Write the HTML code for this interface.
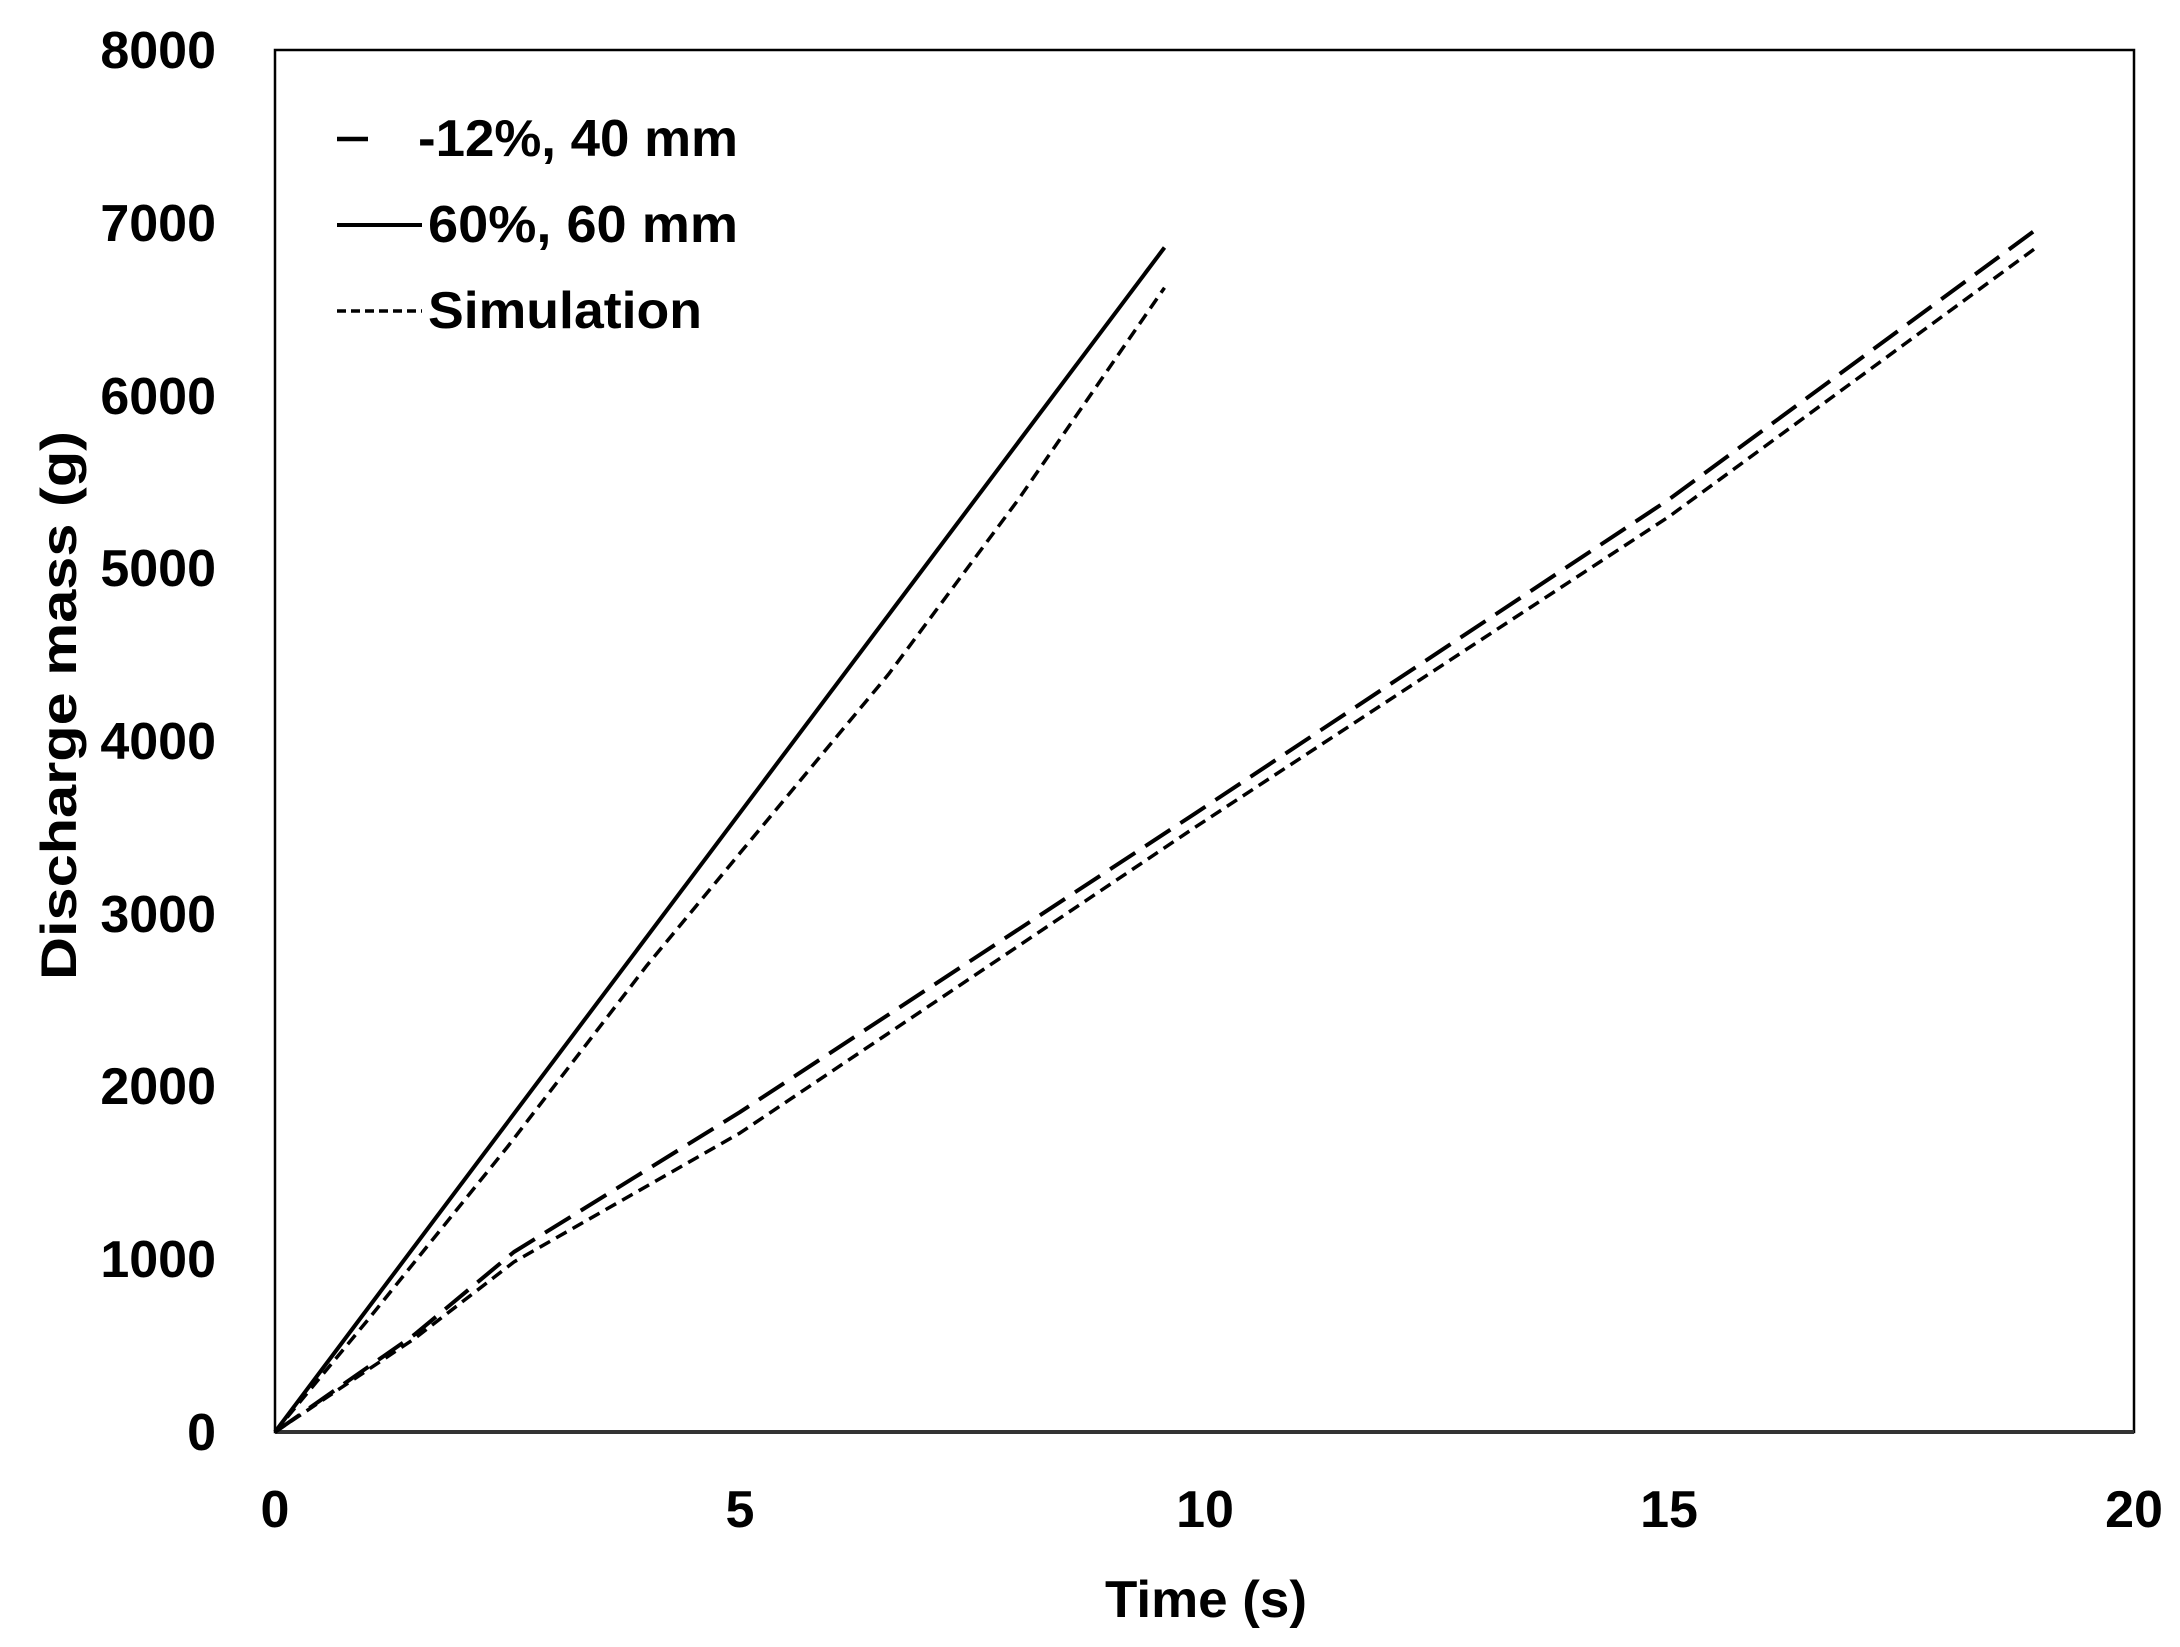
<!DOCTYPE html>
<html><head><meta charset="utf-8"><style>
html,body{margin:0;padding:0;background:#fff;}
svg{display:block;}
text{font-family:"Liberation Sans",sans-serif;font-weight:bold;fill:#000;}
</style></head><body>
<svg width="2180" height="1647" viewBox="0 0 2180 1647" xmlns="http://www.w3.org/2000/svg">
<rect x="275" y="50" width="1859" height="1382" fill="none" stroke="#000" stroke-width="2.5"/>
<line x1="275" y1="1432" x2="2134" y2="1432" stroke="#333" stroke-width="4"/>
<g font-size="52" text-anchor="end">
<text x="216" y="1450">0</text>
<text x="216" y="1277">1000</text>
<text x="216" y="1104">2000</text>
<text x="216" y="932">3000</text>
<text x="216" y="759">4000</text>
<text x="216" y="586">5000</text>
<text x="216" y="414">6000</text>
<text x="216" y="241">7000</text>
<text x="216" y="68">8000</text>
</g>
<g font-size="52" text-anchor="middle">
<text x="275" y="1527">0</text>
<text x="740" y="1527">5</text>
<text x="1205" y="1527">10</text>
<text x="1669" y="1527">15</text>
<text x="2134" y="1527">20</text>
</g>
<text x="1105" y="1617" font-size="52" textLength="202" lengthAdjust="spacingAndGlyphs">Time (s)</text>
<text transform="translate(76,980) rotate(-90)" font-size="50" textLength="549" lengthAdjust="spacingAndGlyphs">Discharge mass (g)</text>
<g font-size="52">
<text x="418" y="156" textLength="320" lengthAdjust="spacingAndGlyphs">-12%, 40 mm</text>
<text x="428" y="242" textLength="310" lengthAdjust="spacingAndGlyphs">60%, 60 mm</text>
<text x="428" y="328" textLength="274" lengthAdjust="spacingAndGlyphs">Simulation</text>
</g>
<line x1="337" y1="139" x2="368" y2="139" stroke="#000" stroke-width="4.5"/>
<line x1="337" y1="225" x2="422" y2="225" stroke="#000" stroke-width="4"/>
<line x1="337" y1="311" x2="422" y2="311" stroke="#000" stroke-width="3.5" stroke-dasharray="9,5"/>
<g fill="none" stroke="#000" stroke-linejoin="round">
<polyline stroke-width="4" points="275,1432 1164.5,247.5"/>
<polyline stroke-width="3.5" stroke-dasharray="12,7" points="275,1432 368,1319.7 507.4,1147 646.8,965.6 739.8,853.3 888.5,674.3 1018.6,499.2 1164.5,287.7"/>
<polyline stroke-width="4" stroke-dasharray="30,12" points="275,1432 414.4,1334.7 513.9,1252 739.8,1112.2 1195.2,813.4 1669.3,499.2 2036.4,229.3"/>
<polyline stroke-width="3.5" stroke-dasharray="12,7" points="275,1432 414.4,1338.7 513.9,1262 739.8,1133.1 1195.2,827.2 1669.3,516.4 2036.4,247.5"/>
</g>
</svg>
</body></html>
